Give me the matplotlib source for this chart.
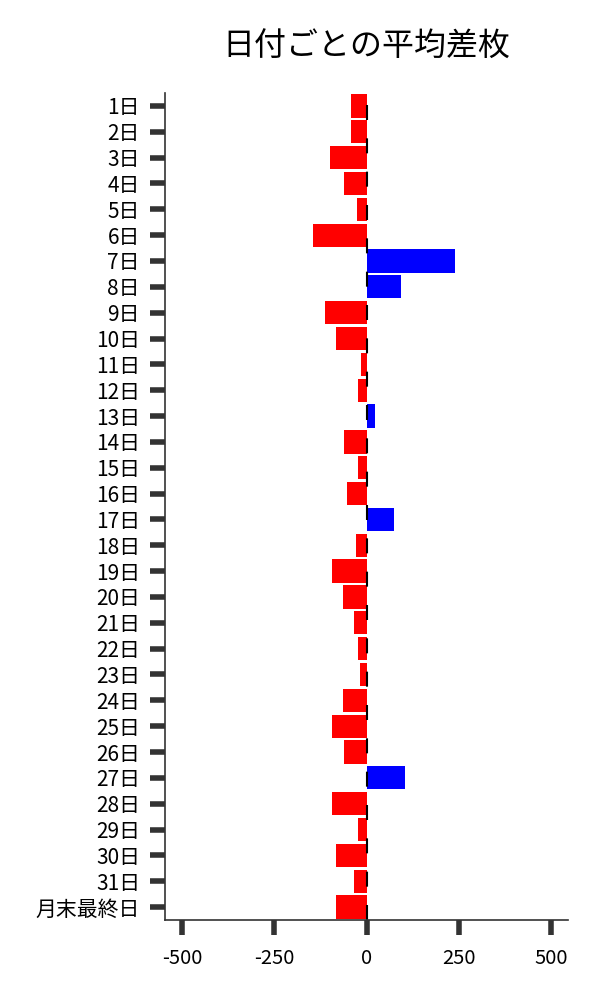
import matplotlib
matplotlib.use('Agg')
import matplotlib.pyplot as plt

plt.rcParams['font.family'] = ['Noto Sans CJK JP', 'DejaVu Sans']

# 日付ラベルと平均差枚
days = [f'{i}日' for i in range(1, 32)] + ['月末最終日']
avg_diff = [-43, -43, -100, -60, -27, -144, 239, 92, -114, -82,
            -16, -24, 24, -62, -22, -54, 73, -30, -95, -65,
            -33, -22, -19, -65, -95, -62, 103, -95, -22, -82,
            -35, -84]
colors = ['blue' if v > 0 else 'red' for v in avg_diff]
x_ticks = [-500, -250, 0, 250, 500]
x_labels = ['-500', '-250', '0', '250', '500']

fig = plt.figure(figsize=(6, 10), dpi=100)
ax = fig.add_axes([0.275, 0.08, 0.672, 0.827])

pos = list(range(len(days)))
ax.barh(pos, avg_diff, height=0.9, color=colors)
ax.axvline(0, color='black', linewidth=1.5, linestyle=(0, (7.2, 8.8)))

ax.set_ylim(len(days) - 0.5, -0.5)
ax.set_xlim(-546, 546)
ax.set_yticks(pos)
ax.set_yticklabels(days)
ax.set_xticks(x_ticks)
ax.set_xticklabels(x_labels)

ax.tick_params(axis='both', length=11, width=4, color='#333333', pad=7)
ax.tick_params(axis='y', labelsize=15)
ax.tick_params(axis='x', labelsize=14.5, pad=9)

for s in ['top', 'right']:
    ax.spines[s].set_visible(False)
for s in ['left', 'bottom']:
    ax.spines[s].set_color('#333333')
    ax.spines[s].set_linewidth(1.2)

ax.set_title('日付ごとの平均差枚', fontsize=23, pad=27)

fig.savefig('out.png')
